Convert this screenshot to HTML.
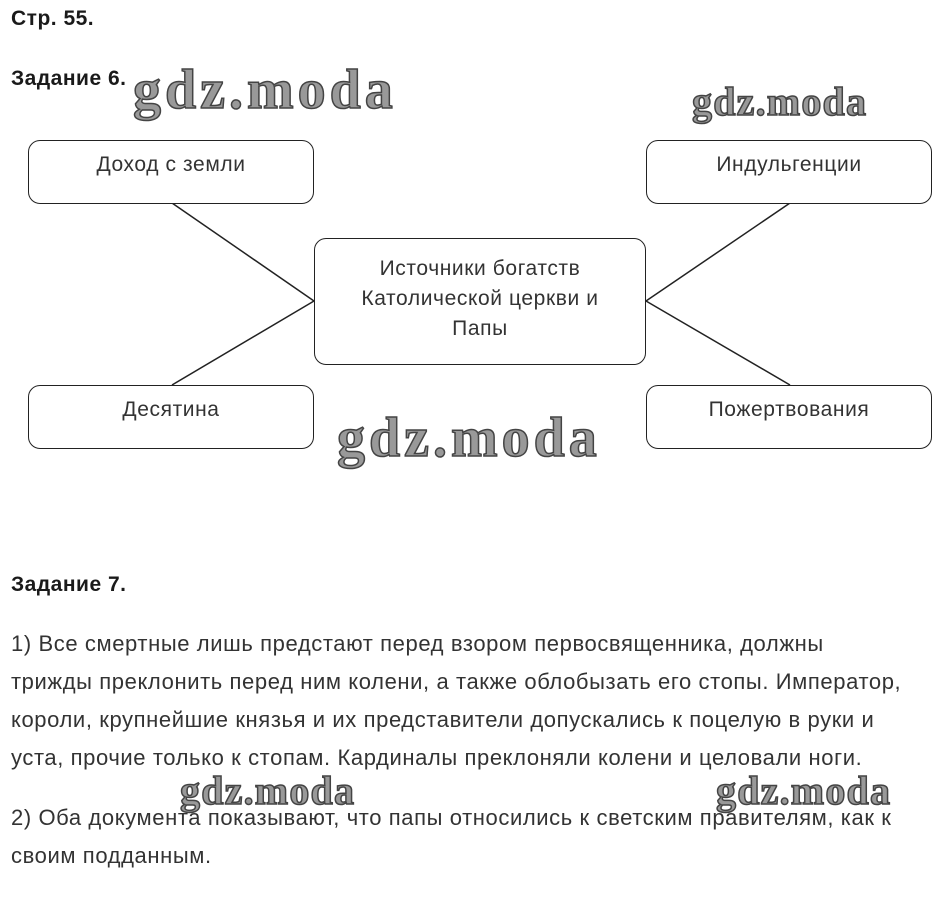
<!DOCTYPE html>
<html><head><meta charset="utf-8"><style>
body{margin:0;width:942px;height:918px;background:#fff;position:relative;overflow:hidden;font-family:"Liberation Sans",Arial,sans-serif;color:#222}
.a{position:absolute;white-space:nowrap}
.b{font-weight:bold;font-size:21px;color:#1a1a1a;letter-spacing:0.5px}
.box{position:absolute;border:1.5px solid #222;border-radius:12px;background:#fff;box-sizing:border-box;text-align:center;font-size:21px;letter-spacing:0.6px;color:#333}
.t{font-size:22px;color:#333;left:11px;letter-spacing:0.6px}
.wm{position:absolute;font-family:"Liberation Serif",serif;font-weight:bold;color:#999;-webkit-text-stroke:1.5px #444;white-space:nowrap}
</style></head><body>
<div class="a b" style="left:11px;top:7px">Стр. 55.</div>
<div class="a b" style="left:11px;top:67px">Задание 6.</div>
<svg class="a" style="left:0;top:0" width="942" height="500"><g stroke="#222" stroke-width="1.5"><line x1="172" y1="203" x2="314" y2="301"/><line x1="646" y1="301" x2="790" y2="203"/><line x1="314" y1="301" x2="172" y2="385"/><line x1="646" y1="301" x2="790" y2="385"/></g></svg>
<div class="box" style="left:28px;top:140px;width:286px;height:64px;padding-top:12px">Доход с земли</div>
<div class="box" style="left:646px;top:140px;width:286px;height:64px;padding-top:12px">Индульгенции</div>
<div class="box" style="left:314px;top:238px;width:332px;height:127px;padding-top:15px;line-height:30px">Источники богатств<br>Католической церкви и<br>Папы</div>
<div class="box" style="left:28px;top:385px;width:286px;height:64px;padding-top:12px">Десятина</div>
<div class="box" style="left:646px;top:385px;width:286px;height:64px;padding-top:12px">Пожертвования</div>
<div class="wm" style="left:133px;top:58px;font-size:56px;letter-spacing:4px">gdz.moda</div>
<div class="wm" style="left:692px;top:78px;font-size:40px;letter-spacing:1.2px">gdz.moda</div>
<div class="wm" style="left:337px;top:406px;font-size:56px;letter-spacing:4px">gdz.moda</div>
<div class="a b" style="left:11px;top:573px">Задание 7.</div>
<div class="a t" style="top:631px">1) Все смертные лишь предстают перед взором первосвященника, должны</div>
<div class="a t" style="top:669px">трижды преклонить перед ним колени, а также облобызать его стопы. Император,</div>
<div class="a t" style="top:707px">короли, крупнейшие князья и их представители допускались к поцелую в руки и</div>
<div class="a t" style="top:745px">уста, прочие только к стопам. Кардиналы преклоняли колени и целовали ноги.</div>
<div class="wm" style="left:180px;top:767px;font-size:40px;letter-spacing:1.2px">gdz.moda</div>
<div class="wm" style="left:716px;top:767px;font-size:40px;letter-spacing:1.2px">gdz.moda</div>
<div class="a t" style="top:805px">2) Оба документа показывают, что папы относились к светским правителям, как к</div>
<div class="a t" style="top:843px">своим подданным.</div>
</body></html>
